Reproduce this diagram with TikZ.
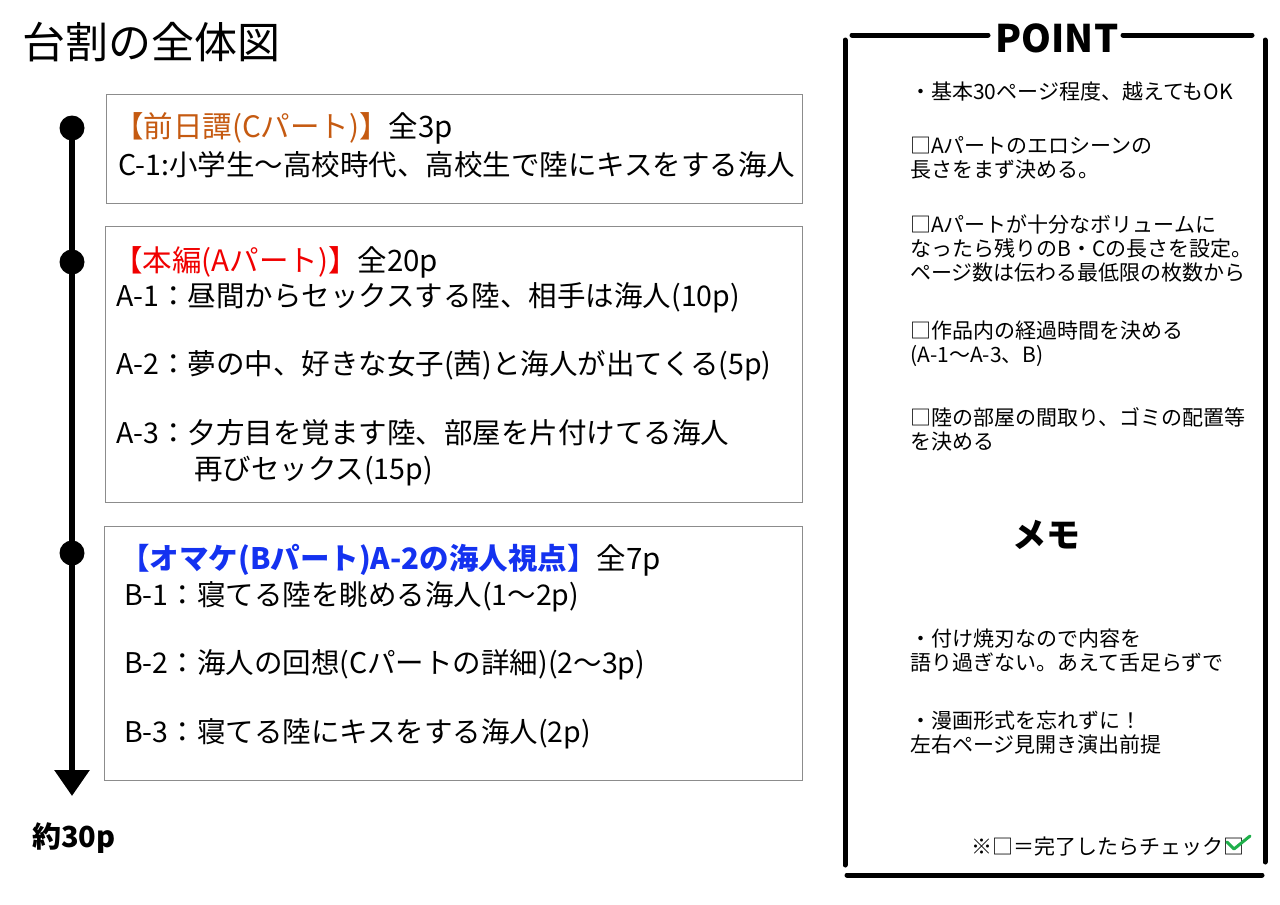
\documentclass[tikz,border=0pt]{standalone}
\usepackage{fontspec}
\setmainfont{Noto Sans CJK JP}
\usepackage{xcolor}
\usetikzlibrary{
  arrows.meta,
  positioning
}
\definecolor{zenorange}{HTML}{C55A11}
\definecolor{honred}{HTML}{F00000}
\definecolor{omablue}{HTML}{1432F0}
\definecolor{chkgreen}{HTML}{1FAF4B}
\tikzset{
  part/.style={draw=black!45, line width=1.2pt, anchor=north west, inner sep=0pt},
  dot/.style={circle, fill=black, minimum size=25pt, inner sep=0pt},
  head/.style={anchor=west, inner sep=0pt, font=\fontsize{29.5}{34}\selectfont},
  item/.style={anchor=west, inner sep=0pt, font=\fontsize{28.5}{36}\selectfont},
  memo/.style={anchor=north west, inner sep=0pt, align=left, font=\fontsize{21}{24}\selectfont},
  frame/.style={line width=5pt, line cap=round}
}

\begin{document}
\begin{tikzpicture}[x=1pt, y=-1pt]
    \useasboundingbox (0,0) rectangle (1280,905);
    \node[anchor=west, inner sep=0pt, font=\fontsize{43}{46}\selectfont] (title) at (22,42) {台割の全体図};

    % timeline
    \node[dot] (d1) at (72,128) {};
    \node[dot] (d2) at (72,262) {};
    \node[dot] (d3) at (72,553) {};
    \coordinate (tend) at (72,796);
    \draw[line width=6pt, -{Triangle[width=34pt, length=26pt]}] (d1.center) -- (tend);
    \node[anchor=west, inner sep=0pt, font=\bfseries\fontsize{29}{32}\selectfont] (total) at (32,838) {約30p};

    % parts
    \node[part, minimum width=696pt, minimum height=109pt] (boxc) at (106,94) {};
    \node[part, minimum width=697pt, minimum height=276pt] (boxa) at (105,226) {};
    \node[part, minimum width=698pt, minimum height=254pt] (boxb) at (104,526) {};

    \node[head] (hc) at (114,128) {\textcolor{zenorange}{【前日譚(Cパート)】}全3p};
    \node[item] (c1) at (118,165) {C-1:小学生～高校時代、高校生で陸にキスをする海人};

    \node[head] (ha) at (113,262) {\textcolor{honred}{【本編(Aパート)】}全20p};
    \node[item] (a1) at (116,298) {A-1：昼間からセックスする陸、相手は海人(10p)};
    \node[item] (a2) at (116,366) {A-2：夢の中、好きな女子(茜)と海人が出てくる(5p)};
    \node[item, align=left, anchor=north west] (a3) at (116,419) {A-3：夕方目を覚ます陸、部屋を片付けてる海人\\\hspace{78pt}再びセックス(15p)};

    \node[head] (hb) at (120,560) {\textcolor{omablue}{\bfseries【オマケ(Bパート)A-2の海人視点】}全7p};
    \node[item] (b1) at (124,597) {B-1：寝てる陸を眺める海人(1～2p)};
    \node[item] (b2) at (124,665) {B-2：海人の回想(Cパートの詳細)(2～3p)};
    \node[item] (b3) at (124,734) {B-3：寝てる陸にキスをする海人(2p)};

    % point frame
    \node[inner sep=0pt, font=\bfseries\fontsize{38}{42}\selectfont] (point) at (1057,38) {POINT};
    \coordinate (ftl) at (852,35);
    \coordinate (fpa) at (988,35);
    \coordinate (fpb) at (1123,35);
    \coordinate (ftr) at (1252,35);
    \draw[frame] (ftl) -- (fpa);
    \draw[frame] (fpb) -- (ftr);
    \draw[frame] (845,40) -- (845,865);
    \draw[frame] (1265,40) -- (1265,862);
    \draw[frame] (847,875) -- (1262,875);

    \node[memo] (p1) at (910,82) {・基本30ページ程度、越えてもOK};
    \node[memo] (p2) at (910,136) {□Aパートのエロシーンの\\長さをまず決める。};
    \node[memo] (p3) at (910,215) {□Aパートが十分なボリュームに\\なったら残りのB・Cの長さを設定。\\ページ数は伝わる最低限の枚数から};
    \node[memo] (p4) at (910,321) {□作品内の経過時間を決める\\(A-1～A-3、B)};
    \node[memo] (p5) at (910,407) {□陸の部屋の間取り、ゴミの配置等\\を決める};

    \node[font=\bfseries\fontsize{34}{38}\selectfont] (memo) at (1046,535) {メモ};
    \node[memo] (m1) at (910,629) {・付け焼刃なので内容を\\語り過ぎない。あえて舌足らずで};
    \node[memo] (m2) at (910,711) {・漫画形式を忘れずに！\\左右ページ見開き演出前提};

    \node[anchor=east, inner sep=0pt, font=\fontsize{21}{24}\selectfont] (note) at (1245,847) {※□＝完了したらチェック□};
    \draw[chkgreen, line width=3pt, line cap=round, line join=round] (1227,842) -- (1234,849) -- (1250,836);
\end{tikzpicture}
\end{document}
